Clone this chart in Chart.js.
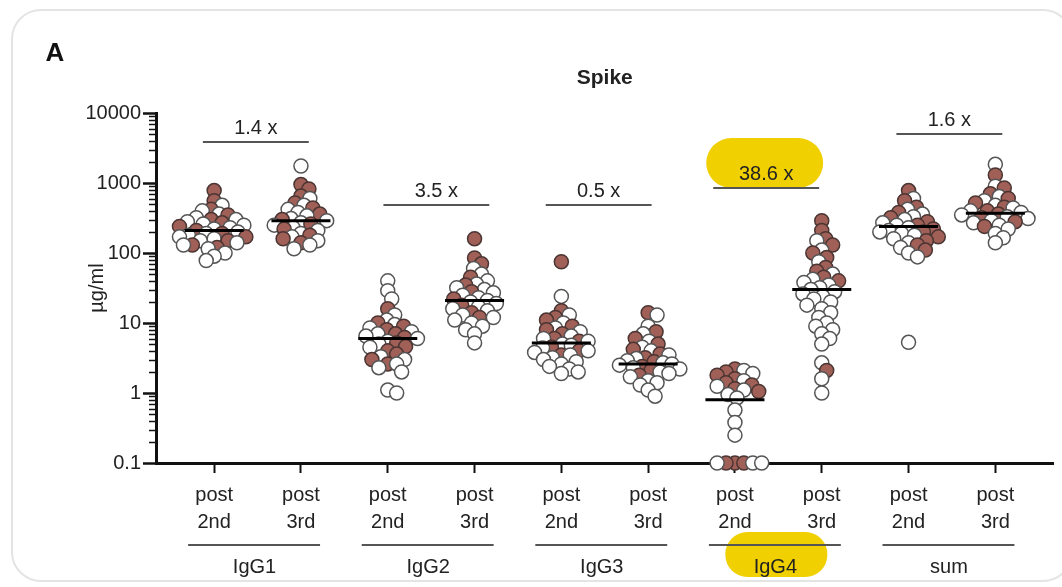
<!DOCTYPE html>
<html>
<head>
<meta charset="utf-8">
<script src="https://cdn.jsdelivr.net/npm/chart.js@4.4.1/dist/chart.umd.min.js"></script>
<style>
  html, body { margin: 0; padding: 0; background: #fff; }
  #wrap { position: relative; width: 1062px; height: 587px; overflow: hidden; }
  #panel { position: absolute; left: 11px; top: 9px; width: 1062px; height: 573px; border: 2px solid #e4e4e4; border-radius: 30px; box-sizing: border-box; }
  canvas { position: absolute; left: 0; top: 0; }
</style>
</head>
<body>
<div id="wrap"><div id="panel"></div><canvas id="chart" width="1062" height="587"></canvas></div>
<script>
// groupes et temps de prélèvement
const groups = ['IgG1', 'IgG2', 'IgG3', 'IgG4', 'sum'];
const doses = ['2nd', '3rd'];
const yTicks = [0.1, 1, 10, 100, 1000, 10000];

// médianes par colonne (µg/ml)
const medians = [210, 290, 6.0, 21, 5.2, 2.6, 0.8, 30, 240, 370];

// facteurs post 3rd / post 2nd, et hauteur de la barre au-dessus de chaque paire
const foldChanges = ['1.4 x', '3.5 x', '0.5 x', '38.6 x', '1.6 x'];
const foldBarLevels = [3850, 485, 485, 848, 5000];
const highlighted = 'IgG4';

// points pleins (marron)
const brownValues = [
  [780, 560, 420, 350, 300, 270, 240, 210, 190, 170, 150, 130, 120],
  [950, 820, 650, 520, 440, 360, 300, 260, 220, 180, 160, 140],
  [16, 10, 9, 8, 7, 6.2, 5.2, 4.6, 4, 3.6, 3, 2.6],
  [160, 85, 70, 45, 35, 28, 22, 18, 14, 12],
  [75, 15, 12, 11, 9, 8, 7, 6, 5.5, 4.5, 4, 3.5],
  [14, 7.5, 6, 5, 4.2, 3.6, 3.2, 2.8, 2.4, 2.1, 1.8],
  [2.2, 2.0, 1.8, 1.6, 1.4, 1.3, 1.15, 1.05, 0.1, 0.1, 0.1],
  [290, 210, 160, 130, 100, 86, 62, 55, 45, 40, 2.1],
  [780, 560, 450, 380, 320, 280, 250, 220, 200, 170, 150, 130, 110],
  [1300, 850, 700, 600, 520, 450, 400, 360, 320, 280, 240]
];

// points vides (blancs)
const whiteValues = [
  [480, 400, 360, 320, 300, 280, 260, 250, 230, 220, 200, 190, 180, 170, 160, 150, 140, 130, 115, 100, 90, 78],
  [1750, 600, 480, 420, 380, 340, 310, 290, 270, 250, 230, 210, 190, 170, 150, 130, 115],
  [40, 29, 22, 13, 11, 9.5, 8.5, 7.5, 7, 6.5, 6, 5.5, 5, 4.5, 3.3, 3, 2.6, 2.3, 2, 1.1, 1.0],
  [60, 50, 40, 36, 32, 30, 27, 25, 23, 21, 20, 19, 17, 16, 15, 13, 12, 11, 10, 9, 8, 7, 5.2],
  [24, 13, 10, 8.5, 7.5, 6.5, 6, 5.5, 5, 4.8, 4.4, 4, 3.8, 3.5, 3.2, 3, 2.8, 2.6, 2.4, 2.2, 2.0, 1.9],
  [13, 9, 7, 5.5, 4.5, 4, 3.5, 3.1, 2.9, 2.7, 2.6, 2.5, 2.3, 2.2, 2.0, 1.9, 1.7, 1.5, 1.4, 1.3, 1.1, 0.9],
  [2.1, 1.9, 1.5, 1.25, 1.1, 0.95, 0.85, 0.57, 0.38, 0.25, 0.1, 0.1, 0.1],
  [150, 110, 75, 50, 42, 38, 35, 32, 30, 28, 26, 24, 22, 20, 18, 16, 14, 12, 10, 9, 8, 7, 6, 5, 2.7, 1.6, 1.0],
  [600, 420, 360, 330, 300, 270, 250, 230, 210, 200, 190, 180, 160, 140, 120, 100, 88, 5.3],
  [1850, 900, 640, 560, 480, 440, 400, 380, 350, 330, 310, 290, 270, 250, 220, 190, 165, 140]
];

const FONT = '"Liberation Sans", Arial, sans-serif';
const TEXT = '#222';
const BROWN = 'rgb(160, 96, 88)';
const YELLOW = 'rgb(240, 208, 0)';
// décalage horizontal des barres de facteur (en colonnes)
const BAR_SHIFT = [0.02, 0.1, -0.03, -0.1, 0.01];

// beeswarm : écarte horizontalement les points qui se chevauchent
const PX_CAT = 87.6, PX_DEC = 70.2, MIN_DIST = 9;
function swarm(col) {
  const pts = [];
  brownValues[col].forEach(v => pts.push({ v, brown: true }));
  whiteValues[col].forEach(v => pts.push({ v, brown: false }));
  pts.sort((a, b) => b.v - a.v);
  const placed = [];
  pts.forEach(p => {
    const py = Math.log10(p.v) * PX_DEC;
    let off = 0;
    for (let k = 0; k < 400; k++) {
      const cand = k % 2 ? (k + 1) / 2 : -k / 2;
      if (placed.every(q => (q.x - cand) ** 2 + (q.y - py) ** 2 >= MIN_DIST * MIN_DIST)) { off = cand; break; }
    }
    placed.push({ x: off, y: py });
    p.x = col + off / PX_CAT;
  });
  return pts;
}

// un seul jeu de points, marron et blancs mêlés comme sur la figure
const points = [], fills = [], strokes = [];
medians.forEach((m, col) => {
  swarm(col).forEach(p => {
    points.push({ x: p.x, y: p.v });
    fills.push(p.brown ? BROWN : '#fff');
    strokes.push(p.brown ? '#4a3532' : '#555');
  });
});

const medianSets = medians.map((m, col) => ({
  type: 'line',
  data: [{ x: col - 0.34, y: m }, { x: col + 0.34, y: m }],
  borderColor: '#000',
  borderWidth: 3,
  pointRadius: 0,
  clip: false
}));

function barEnds(x, g) {
  return [x.getPixelForValue(g * 2 - 0.15 + BAR_SHIFT[g]), x.getPixelForValue(g * 2 + 1.07 + BAR_SHIFT[g])];
}

const extras = {
  id: 'extras',
  beforeDraw(chart) {
    const { ctx, scales: { x, y } } = chart;
    ctx.save();
    ctx.fillStyle = YELLOW;
    // pastille derrière le facteur IgG4
    const gi = groups.indexOf(highlighted);
    const [x1, x2] = barEnds(x, gi);
    const ly = y.getPixelForValue(foldBarLevels[gi]);
    ctx.beginPath();
    ctx.roundRect(x1 - 7, ly - 50, x2 - x1 + 11, 50, 25);
    ctx.fill();
    // pastille derrière le nom IgG4
    const cx = x.getPixelForValue(gi * 2 + 0.5) - 2;
    ctx.beginPath();
    ctx.roundRect(cx - 51, 532, 102, 45, 22);
    ctx.fill();
    ctx.restore();
  },
  afterDraw(chart) {
    const { ctx, chartArea, scales: { x, y } } = chart;
    ctx.save();
    // petites graduations du log
    ctx.strokeStyle = '#111';
    ctx.lineWidth = 1.5;
    for (let d = 0; d < yTicks.length - 1; d++) {
      for (let k = 2; k < 10; k++) {
        const py = Math.round(y.getPixelForValue(yTicks[d] * k)) + 0.5;
        ctx.beginPath();
        ctx.moveTo(chartArea.left - 7, py);
        ctx.lineTo(chartArea.left, py);
        ctx.stroke();
      }
    }
    ctx.fillStyle = TEXT;
    ctx.textAlign = 'center';
    ctx.textBaseline = 'middle';
    ctx.font = '20px ' + FONT;
    // barres des facteurs
    ctx.strokeStyle = '#555';
    ctx.lineWidth = 2;
    foldChanges.forEach((txt, g) => {
      const [a, b] = barEnds(x, g);
      const py = y.getPixelForValue(foldBarLevels[g]);
      ctx.beginPath();
      ctx.moveTo(a, py);
      ctx.lineTo(b, py);
      ctx.stroke();
      ctx.fillText(txt, (a + b) / 2, py - 14);
    });
    // noms des groupes sous l'axe
    groups.forEach((name, g) => {
      const a = x.getPixelForValue(g * 2 - 0.3);
      const b = x.getPixelForValue(g * 2 + 1.22);
      ctx.beginPath();
      ctx.moveTo(a, 545);
      ctx.lineTo(b, 545);
      ctx.stroke();
      ctx.fillText(name, x.getPixelForValue(g * 2 + 0.5) - 3, 567);
    });
    // titres
    ctx.font = 'bold 21px ' + FONT;
    ctx.fillText('Spike', (chartArea.left + chartArea.right) / 2, 78);
    ctx.font = 'bold 26px ' + FONT;
    ctx.fillStyle = '#111';
    ctx.fillText('A', 55, 54);
    ctx.fillStyle = TEXT;
    ctx.font = '20px ' + FONT;
    ctx.translate(97, (chartArea.top + chartArea.bottom) / 2);
    ctx.rotate(-Math.PI / 2);
    ctx.fillText('µg/ml', 0, 0);
    ctx.restore();
  }
};

new Chart(document.getElementById('chart'), {
  type: 'scatter',
  data: {
    datasets: [
      ...medianSets,
      {
        data: points,
        backgroundColor: fills,
        borderColor: strokes,
        borderWidth: 1.5,
        pointRadius: 7,
        clip: false
      }
    ]
  },
  options: {
    responsive: false,
    animation: false,
    layout: { padding: { top: 113, left: 0, right: 0, bottom: 0 } },
    plugins: { legend: { display: false }, tooltip: { enabled: false } },
    scales: {
      x: {
        type: 'linear',
        min: -0.67,
        max: 9.67,
        afterBuildTicks: s => { s.ticks = medians.map((m, i) => ({ value: i })); },
        afterFit: s => { s.height = 124; },
        ticks: {
          callback: v => ['post', doses[v % 2]],
          font: { family: FONT, size: 20, lineHeight: 1.35 },
          color: TEXT,
          padding: 9,
          maxRotation: 0,
          autoSkip: false
        },
        grid: { drawOnChartArea: false, tickLength: 10, tickWidth: 2, color: '#111' },
        border: { width: 3, color: '#111' }
      },
      y: {
        type: 'logarithmic',
        min: 0.1,
        max: 10000,
        afterBuildTicks: s => { s.ticks = yTicks.map(v => ({ value: v, major: true })); },
        afterFit: s => { s.width = 156; },
        ticks: {
          callback: v => String(v),
          font: { family: FONT, size: 20 },
          color: TEXT,
          padding: 2
        },
        grid: { drawOnChartArea: false, tickLength: 13, tickWidth: 2.5, color: '#111' },
        border: { width: 3, color: '#111' }
      }
    }
  },
  plugins: [extras]
});
</script>
</body>
</html>
